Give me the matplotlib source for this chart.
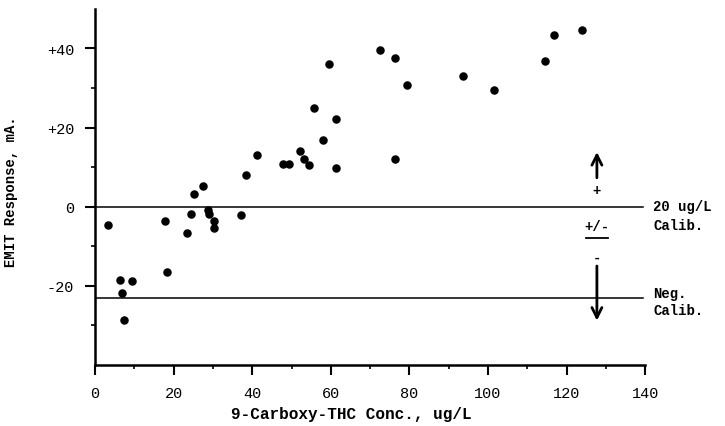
import matplotlib
matplotlib.use('Agg')
import matplotlib.pyplot as plt
import numpy as np

# Typewriter style font
plt.rcParams['font.family'] = ['Liberation Mono', 'DejaVu Sans Mono']

# Data: 9-carboxy-THC conc (ug/L) vs EMIT response (mA)
conc = [3.3, 6.4, 9.3, 6.8, 7.4, 17.9, 18.4, 23.4, 24.5, 25.1,
        27.4, 28.8, 29.1, 30.3, 30.4, 37.2, 38.4, 41.2,
        47.8, 49.4, 52.1, 53.1, 54.4, 55.8, 58.1, 59.5, 61.2, 61.3,
        72.5, 76.3, 76.3, 79.5, 93.6, 101.5, 114.6, 116.8, 123.8]
response = [-4.7, -18.6, -18.7, -21.7, -28.6, -3.6, -16.6, -6.7, -1.8, 3.3,
            5.1, -0.8, -1.8, -3.7, -5.3, -2.0, 8.1, 13.0,
            10.9, 10.9, 14.1, 12.0, 10.6, 25.0, 16.9, 36.0, 9.8, 22.1,
            39.6, 37.5, 12.1, 30.8, 33.1, 29.6, 36.7, 43.5, 44.6]

calib_20 = 0
calib_neg = -23

x_ticks = [0, 20, 40, 60, 80, 100, 120, 140]
y_ticks = [-20, 0, 20, 40]
y_ticklabels = ['-20', '0', '+20', '+40']

fig = plt.figure(figsize=(7.25, 4.27), dpi=100)
ax = fig.add_axes([0.131, 0.143, 0.759, 0.834])

ax.scatter(conc, response, s=26, color='black', zorder=3)

# Calibrator lines
ax.plot([0, 139.5], [calib_20, calib_20], color='black', lw=1.1)
ax.plot([0, 139.5], [calib_neg, calib_neg], color='black', lw=1.1)

ax.set_xlim(0, 140)
ax.set_ylim(-40, 50)

ax.spines['top'].set_visible(False)
ax.spines['right'].set_visible(False)
ax.spines['left'].set_linewidth(1.8)
ax.spines['bottom'].set_linewidth(1.8)

ax.set_xticks(x_ticks)
ax.set_xticks([10, 30, 50, 70, 90, 110, 130], minor=True)
ax.set_yticks(y_ticks)
ax.set_yticklabels(y_ticklabels)
ax.set_yticks([-30, -10, 10, 30], minor=True)
ax.tick_params(axis='both', which='major', length=7, width=1.5, labelsize=11, pad=8)
ax.tick_params(axis='both', which='minor', length=3, width=1.2)

ax.set_xlabel('9-Carboxy-THC Conc., ug/L', fontsize=11.5, fontweight='bold')
ax.set_ylabel('EMIT Response, mA.', fontsize=10, fontweight='bold')
ax.xaxis.set_label_coords(0.465, -0.115)
ax.yaxis.set_label_coords(-0.14, 0.49)

# Decision zone annotations
xa = 127.7
ax.annotate('', xy=(xa, 14.5), xytext=(xa, 6.6),
            arrowprops=dict(arrowstyle='->', lw=2.0, color='black',
                            mutation_scale=18))
ax.text(xa, 4.2, '+', ha='center', va='center', fontsize=10, fontweight='bold')
ax.text(xa, -5.0, '+/-', ha='center', va='center', fontsize=10, fontweight='bold')
ax.plot([125.0, 130.5], [-7.8, -7.8], color='black', lw=1.3)
ax.text(xa, -12.6, '-', ha='center', va='center', fontsize=10, fontweight='bold')
ax.annotate('', xy=(xa, -29.5), xytext=(xa, -14.3),
            arrowprops=dict(arrowstyle='->', lw=2.0, color='black',
                            mutation_scale=18))

ax.text(142.0, 0.2, '20 ug/L', ha='left', va='center', fontsize=10, fontweight='bold')
ax.text(142.0, -4.6, 'Calib.', ha='left', va='center', fontsize=10, fontweight='bold')
ax.text(142.0, -21.8, 'Neg.', ha='left', va='center', fontsize=10, fontweight='bold')
ax.text(142.0, -26.0, 'Calib.', ha='left', va='center', fontsize=10, fontweight='bold')

fig.savefig('out.png', dpi=100)
